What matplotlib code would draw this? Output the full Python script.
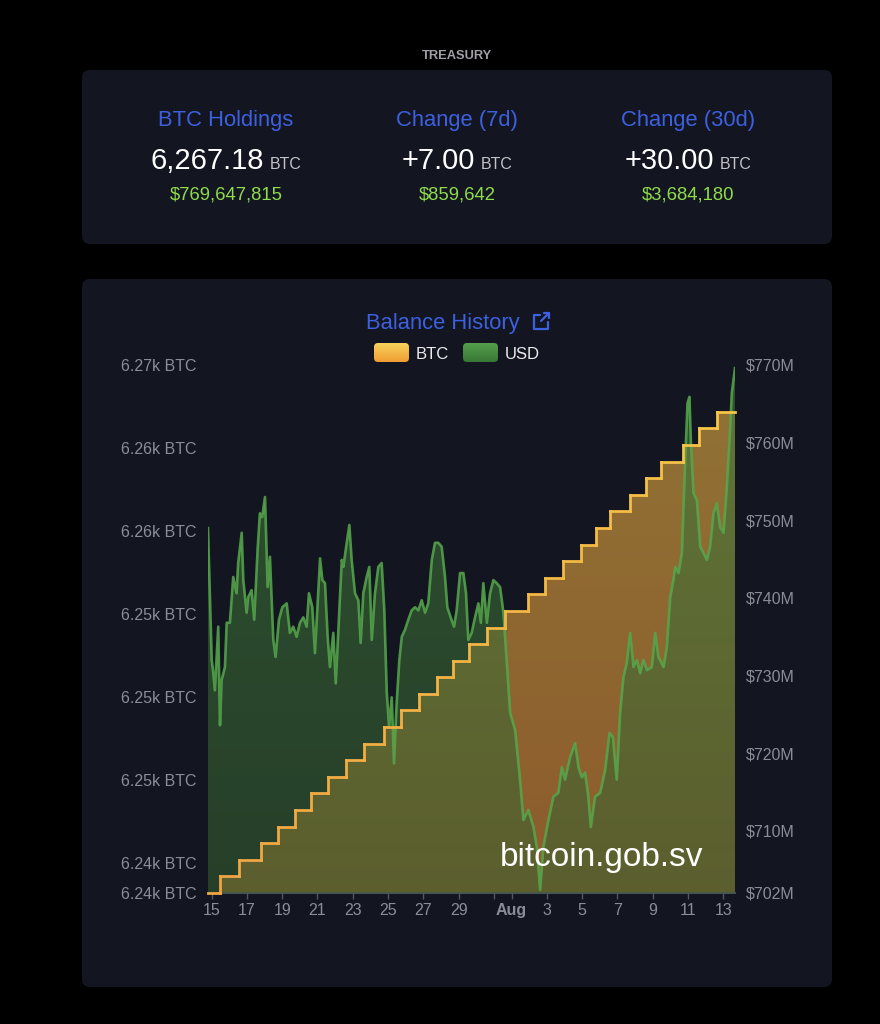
import numpy as np
import matplotlib
matplotlib.use("Agg")
import matplotlib.pyplot as plt
import matplotlib.dates as mdates
from matplotlib.patches import FancyBboxPatch
from matplotlib.collections import LineCollection
from matplotlib.colors import LinearSegmentedColormap

plt.rcParams['font.family'] = ['Liberation Sans', 'DejaVu Sans']

# summary card
card_titles = ["BTC Holdings", "Change (7d)", "Change (30d)"]
card_values = ["6,267.18", "+7.00", "+30.00"]
card_units = ["BTC", "BTC", "BTC"]
card_usd = ["$769,647,815", "$859,642", "$3,684,180"]

start_date = "2025-07-15"

# BTC balance: one purchase a day (days after Jul 15 00:00)
btc_start_day = -0.20
btc_buy_day = [0.48, 1.55, 2.80, 3.76, 4.72, 5.63, 6.60, 7.62, 8.64, 9.77,
               10.74, 11.76, 12.78, 13.69, 14.59, 15.61, 16.63, 17.94, 18.90, 19.92,
               20.94, 21.79, 22.59, 23.72, 24.63, 25.48, 26.73, 27.64, 28.66]
btc_balance = [6238.18, 6239.18, 6240.18, 6241.18, 6242.18, 6243.18, 6244.18, 6245.18,
               6246.18, 6247.18, 6248.18, 6249.18, 6250.18, 6251.18, 6252.18, 6253.18,
               6254.18, 6255.18, 6256.18, 6257.18, 6258.18, 6259.18, 6260.18, 6261.18,
               6262.18, 6263.18, 6264.18, 6265.18, 6266.18, 6267.18]

# USD value of holdings (millions)
usd_day = [-0.20, 0.01, 0.08, 0.19, 0.38, 0.48, 0.57, 0.76, 0.86, 1.04,
           1.23, 1.42, 1.51, 1.71, 1.80, 1.99, 2.08, 2.27, 2.42, 2.61,
           2.74, 2.87, 3.03, 3.18, 3.31, 3.50, 3.63, 3.82, 4.01, 4.26,
           4.44, 4.63, 4.82, 5.01, 5.20, 5.39, 5.52, 5.71, 5.86, 6.01,
           6.15, 6.28, 6.43, 6.58, 6.71, 6.90, 7.04, 7.18, 7.38, 7.47,
           7.66, 7.81, 7.94, 8.13, 8.32, 8.45, 8.60, 8.79, 8.94, 9.08,
           9.26, 9.45, 9.64, 9.79, 9.93, 10.06, 10.21, 10.34, 10.49, 10.64,
           10.78, 10.96, 11.15, 11.34, 11.53, 11.72, 11.91, 12.10, 12.28, 12.48,
           12.66, 12.85, 13.04, 13.23, 13.36, 13.55, 13.74, 13.89, 14.08, 14.27,
           14.42, 14.55, 14.74, 14.93, 15.12, 15.26, 15.40, 15.60, 15.78, 15.97,
           16.16, 16.35, 16.54, 16.73, 16.92, 17.20, 17.48, 17.67, 17.95, 18.24,
           18.43, 18.62, 18.80, 19.09, 19.37, 19.65, 19.85, 20.03, 20.32, 20.60,
           20.79, 20.98, 21.17, 21.35, 21.49, 21.73, 22.02, 22.30, 22.55, 22.74,
           22.96, 23.15, 23.34, 23.53, 23.72, 23.91, 24.10, 24.29, 24.47, 24.67,
           24.95, 25.14, 25.32, 25.61, 25.80, 25.99, 26.17, 26.27, 26.46, 26.65,
           26.84, 26.97, 27.08, 27.16, 27.31, 27.50, 27.69, 27.87, 28.07, 28.25,
           28.44, 28.63, 28.82, 29.01, 29.20, 29.39, 29.48, 29.66]
usd_value = [749.0, 732.0, 730.7, 728.1, 736.3, 723.6, 729.4, 731.1, 736.8, 736.8,
             742.7, 740.6, 744.5, 748.4, 742.3, 738.1, 740.1, 741.0, 737.2, 746.2,
             750.9, 750.4, 753.0, 741.4, 745.3, 734.6, 732.4, 737.2, 738.8, 739.3,
             735.5, 736.3, 735.0, 736.8, 737.5, 736.3, 740.6, 738.8, 732.9, 739.3,
             745.1, 742.3, 741.9, 735.0, 731.1, 735.5, 729.0, 735.5, 744.9, 744.0,
             747.1, 749.4, 744.9, 740.6, 739.7, 734.2, 740.6, 742.7, 744.0, 734.6,
             740.6, 744.0, 744.5, 738.4, 727.8, 723.4, 727.2, 718.7, 726.5, 732.0,
             735.0, 735.9, 737.2, 738.4, 738.8, 738.4, 739.7, 738.1, 739.3, 744.9,
             747.1, 747.1, 746.6, 742.7, 738.8, 737.5, 736.3, 738.4, 743.2, 743.2,
             740.6, 734.6, 735.5, 737.5, 739.3, 736.8, 741.9, 736.8, 740.6, 742.3,
             741.9, 741.4, 738.1, 731.6, 725.2, 723.0, 716.6, 711.4, 712.7, 710.5,
             707.9, 702.4, 707.9, 711.4, 714.4, 714.9, 718.2, 716.6, 719.5, 721.3,
             718.2, 716.9, 717.5, 714.4, 710.5, 714.4, 714.9, 717.8, 722.6, 722.1,
             716.6, 725.2, 729.8, 731.6, 735.5, 731.1, 732.0, 730.3, 732.0, 730.7,
             731.1, 735.5, 732.4, 731.1, 733.7, 740.1, 742.3, 744.0, 743.2, 745.8,
             757.8, 765.1, 765.9, 760.0, 753.5, 752.6, 746.6, 745.8, 744.9, 746.6,
             750.9, 752.2, 749.1, 748.4, 754.3, 762.0, 766.4, 769.6]

btc_ticks = [6238.18, 6240, 6245, 6250, 6255, 6260, 6265, 6270]
usd_ticks = [702, 710, 720, 730, 740, 750, 760, 770]

CARD = '#131520'
BLUE = '#3d60e0'
GREY = '#8b8d96'


def gradient_fill(ax, x, y, base, ylim, top, bottom, step=None, zorder=1):
    coll = ax.fill_between(x, y, base, step=step, facecolor='none', edgecolor='none')
    path = coll.get_paths()[0]
    coll.remove()
    t = np.linspace(0, 1, 256)[:, None]
    rgba = np.array(bottom) * (1 - t) + np.array(top) * t
    im = ax.imshow(rgba[:, None, :], extent=[x[0], x[-1], ylim[0], ylim[1]],
                   origin='lower', aspect='auto', interpolation='bilinear', zorder=zorder)
    im.set_clip_path(path, transform=ax.transData)
    return im


fig = plt.figure(figsize=(8.8, 10.24), dpi=100, facecolor='black')

# background layer in pixel units
bg = fig.add_axes([0, 0, 1, 1])
bg.set_xlim(0, 880)
bg.set_ylim(1024, 0)
bg.axis('off')
bg.add_patch(FancyBboxPatch((82, 70), 750, 174, boxstyle="round,pad=0,rounding_size=8",
                            fc=CARD, ec='none'))
bg.add_patch(FancyBboxPatch((82, 279), 750, 708, boxstyle="round,pad=0,rounding_size=8",
                            fc=CARD, ec='none'))

bg.text(457, 59, "TREASURY", ha='center', va='baseline', fontsize=9.3, fontweight='bold',
        color='#a0a0a6')

renderer = fig.canvas.get_renderer()
col_x = [226, 457, 688]
for i, cx in enumerate(col_x):
    bg.text(cx, 126, card_titles[i], ha='center', va='baseline', fontsize=15.8, color=BLUE)
    tv = bg.text(0, 169, card_values[i], ha='left', va='baseline', fontsize=21, color='white')
    tu = bg.text(0, 169, card_units[i], ha='left', va='baseline', fontsize=11.5, color='#c2c2c8')
    wv = tv.get_window_extent(renderer).width
    wu = tu.get_window_extent(renderer).width
    left = cx - (wv + 6 + wu) / 2
    tv.set_x(left)
    tu.set_x(left + wv + 6)
    bg.text(cx, 199, card_usd[i], ha='center', va='baseline', fontsize=13.3, color='#8fdc4c')

# chart title + link icon
bg.text(443, 329, "Balance History", ha='center', va='baseline', fontsize=15.8, color=BLUE)
bg.plot([540, 534, 534, 548, 548], [315, 315, 329, 329, 322], color=BLUE, lw=1.6,
        solid_capstyle='round', solid_joinstyle='round')
bg.plot([541, 549], [321, 313], color=BLUE, lw=1.6, solid_capstyle='round')
bg.plot([544, 549, 549], [313, 313, 318], color=BLUE, lw=1.6, solid_capstyle='round',
        solid_joinstyle='round')

# legend swatches (vertical gradients)
swatch_t = np.linspace(0, 1, 32)[:, None]
btc_sw = np.array([0.97, 0.82, 0.36]) * (1 - swatch_t) + np.array([0.94, 0.62, 0.20]) * swatch_t
usd_sw = np.array([0.33, 0.62, 0.30]) * (1 - swatch_t) + np.array([0.22, 0.47, 0.21]) * swatch_t
for x0, sw in ((374, btc_sw), (463, usd_sw)):
    box = FancyBboxPatch((x0, 343), 35, 19, boxstyle="round,pad=0,rounding_size=4",
                         fc='none', ec='none')
    bg.add_patch(box)
    im = bg.imshow(sw[:, None, :], extent=[x0, x0 + 35, 362, 343], aspect='auto',
                   interpolation='bilinear', zorder=3)
    im.set_clip_path(box)
bg.set_xlim(0, 880)
bg.set_ylim(1024, 0)
bg.text(416, 359, "BTC", ha='left', va='baseline', fontsize=12, color='#ececee')
bg.text(505, 359, "USD", ha='left', va='baseline', fontsize=12, color='#ececee')

# chart
base = mdates.date2num(np.datetime64(start_date))
x_usd = base + np.array(usd_day)
x_btc = base + np.array([btc_start_day] + btc_buy_day + [usd_day[-1]])
y_btc = np.array(btc_balance + [btc_balance[-1]])
btc_lim = (btc_balance[0], 6270)
usd_lim = (702, 770)

ax1 = fig.add_axes([208 / 880, (1024 - 893) / 1024, 527 / 880, 528 / 1024])
ax1.set_facecolor('none')
ax2 = ax1.twinx()
ax3 = ax1.twinx()

gradient_fill(ax1, x_btc, y_btc, btc_lim[0], btc_lim,
              top=(0.965, 0.75, 0.28, 0.56), bottom=(0.94, 0.58, 0.21, 0.56), step='post')
gradient_fill(ax2, x_usd, np.array(usd_value), usd_lim[0], usd_lim,
              top=(0.25, 0.47, 0.23, 0.62), bottom=(0.21, 0.38, 0.19, 0.56))
ax2.plot(x_usd, usd_value, color='#56a84c', lw=1.9, alpha=0.85, zorder=3,
         solid_joinstyle='round')

# BTC step line, yellow at top fading to orange at bottom
seg_pts = []
for i in range(len(x_btc) - 1):
    seg_pts.append([(x_btc[i], y_btc[i]), (x_btc[i + 1], y_btc[i])])
    seg_pts.append([(x_btc[i + 1], y_btc[i]), (x_btc[i + 1], y_btc[i + 1])])
seg_y = np.array([(s[0][1] + s[1][1]) / 2 for s in seg_pts])
step_cmap = LinearSegmentedColormap.from_list('btc', ['#f0a444', '#f7c846'])
lc = LineCollection(seg_pts, cmap=step_cmap, norm=plt.Normalize(*btc_lim), lw=2.0,
                    zorder=4, clip_on=False, capstyle='projecting')
lc.set_array(seg_y)
ax3.add_collection(lc)

for a in (ax1, ax2, ax3):
    a.set_xlim(x_usd[0], x_usd[-1])
    for s in a.spines.values():
        s.set_visible(False)
ax1.set_ylim(*btc_lim)
ax3.set_ylim(*btc_lim)
ax2.set_ylim(*usd_lim)
ax3.yaxis.set_visible(False)

ax1.spines['bottom'].set_visible(True)
ax1.spines['bottom'].set_color('#55575f')
ax1.spines['bottom'].set_linewidth(1.3)

ax1.set_yticks(btc_ticks, ["%.2fk BTC" % (v / 1000) for v in btc_ticks])
ax2.set_yticks(usd_ticks, ["$%dM" % v for v in usd_ticks])
ax1.tick_params(axis='y', length=0, pad=8.5, labelsize=11.5, labelcolor=GREY)
ax2.tick_params(axis='y', length=0, pad=8, labelsize=11.5, labelcolor=GREY)

loc = mdates.DayLocator(bymonthday=range(1, 32, 2))
tick_vals = [t for t in loc.tick_values(mdates.num2date(x_usd[0]), mdates.num2date(x_usd[-1]))
             if x_usd[0] <= t <= x_usd[-1]]
tick_lbls = []
for t in tick_vals:
    d = mdates.num2date(t)
    if d.day == 1:
        tick_lbls.append(d.strftime('%b'))
    elif d.day == 31:
        tick_lbls.append('')
    else:
        tick_lbls.append(str(d.day))
ax1.set_xticks(tick_vals, tick_lbls)
ax1.tick_params(axis='x', length=4.5, width=1, color='#55575f', pad=3, labelsize=11.5,
                labelcolor=GREY)
for lbl in ax1.get_xticklabels():
    if lbl.get_text() == 'Aug':
        lbl.set_fontweight('bold')

# watermark
fig.text(500, 866, "bitcoin.gob.sv", transform=bg.transData, ha='left', va='baseline',
         fontsize=24, color='white')

fig.savefig("out.png", dpi=100, facecolor='black')
